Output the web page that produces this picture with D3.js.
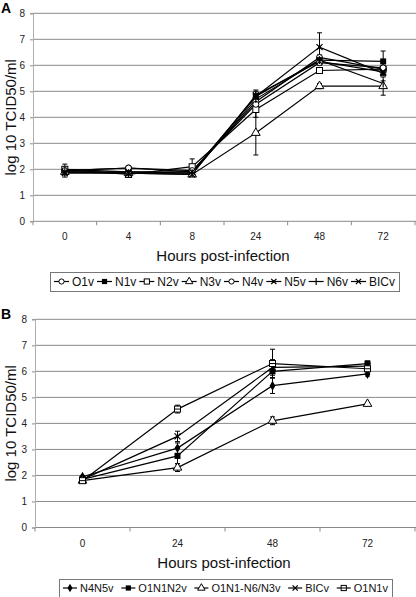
<!DOCTYPE html>
<html><head><meta charset="utf-8">
<script src="https://cdn.jsdelivr.net/npm/d3@7"></script>
<style>
body{margin:0;background:#fff;}
svg{display:block;font-family:"Liberation Sans",Arial,sans-serif;}
</style></head>
<body><svg id="c" width="416" height="597"></svg>
<script>
// ---------- Panel A data ----------
const hoursA = ["0","4","8","24","48","72"];
const seriesA = ["O1v","N1v","N2v","N3v","N4v","N5v","N6v","BICv"];
const markersA = ["circle","squareFilled","square","triangle","circle","xdot","plus","x"];
const O1v  = [1.95, 2.05, 1.90, 4.60, 6.30, 5.85];
const N1v  = [2.00, 1.90, 1.85, 4.80, 6.20, 6.15];
const N2v  = [2.00, 1.80, 2.10, 4.30, 5.80, 5.85];
const N3v  = [1.90, 1.85, 1.80, 3.40, 5.20, 5.20];
const N4v  = [1.95, 2.05, 1.95, 4.50, 6.10, 5.90];
const N5v  = [1.90, 1.90, 1.90, 4.80, 6.70, 5.70];
const N6v  = [1.90, 1.85, 1.85, 4.70, 6.20, 5.30];
const BICvA= [1.85, 1.85, 1.80, 4.85, 6.15, 5.75];
const errO1v  = [0.25, 0.05, 0.05, 0.10, 0.10, 0.10];
const errN1v  = [0.05, 0.05, 0.05, 0.10, 0.10, 0.40];
const errN2v  = [0.05, 0.05, 0.30, 0.30, 0.10, 0.10];
const errN3v  = [0.05, 0.05, 0.05, 0.85, 0.10, 0.35];
const errN4v  = [0.05, 0.05, 0.05, 0.10, 0.10, 0.10];
const errN5v  = [0.05, 0.05, 0.05, 0.20, 0.55, 0.10];
const errN6v  = [0.05, 0.05, 0.05, 0.10, 0.10, 0.10];
const errBICvA= [0.05, 0.05, 0.05, 0.20, 0.10, 0.10];
const valuesA = [O1v,N1v,N2v,N3v,N4v,N5v,N6v,BICvA];
const errorsA = [errO1v,errN1v,errN2v,errN3v,errN4v,errN5v,errN6v,errBICvA];

// ---------- Panel B data ----------
const hoursB = ["0","24","48","72"];
const seriesB = ["N4N5v","O1N1N2v","O1N1-N6/N3v","BICv","O1N1v"];
const markersB = ["diamondFilled","squareFilled","triangle","x","squareLine"];
const N4N5v   = [1.95, 3.05, 5.45, 5.90];
const O1N1N2v = [1.85, 2.75, 6.00, 6.30];
const O1N1N6N3v = [1.80, 2.30, 4.10, 4.75];
const BICvB   = [1.85, 3.50, 6.15, 6.20];
const O1N1v   = [1.80, 4.55, 6.30, 6.10];
const errN4N5v   = [0.05, 0.20, 0.30, 0.08];
const errO1N1N2v = [0.05, 0.30, 0.25, 0.10];
const errO1N1N6N3v = [0.05, 0.15, 0.15, 0.05];
const errBICvB   = [0.05, 0.20, 0.30, 0.10];
const errO1N1v   = [0.05, 0.15, 0.55, 0.10];
const valuesB = [N4N5v,O1N1N2v,O1N1N6N3v,BICvB,O1N1v];
const errorsB = [errN4N5v,errO1N1N2v,errO1N1N6N3v,errBICvB,errO1N1v];

const yTicks = [0,1,2,3,4,5,6,7,8];
const yLabel = "log 10 TCID50/ml";
const xLabel = "Hours post-infection";

const svg = d3.select("#c");

function drawMarker(g, type, x, y, s){
  s = s || 3;
  if(type==="circle"){
    g.append("circle").attr("cx",x).attr("cy",y).attr("r",s).attr("fill","#fff").attr("stroke","#000").attr("stroke-width",1);
  } else if(type==="squareFilled"){
    g.append("rect").attr("x",x-s).attr("y",y-s).attr("width",2*s).attr("height",2*s).attr("fill","#000");
  } else if(type==="square" || type==="squareLine"){
    g.append("rect").attr("x",x-s).attr("y",y-s).attr("width",2*s).attr("height",2*s).attr("fill","#fff").attr("stroke","#000").attr("stroke-width",1);
    if(type==="squareLine") g.append("line").attr("x1",x-s).attr("x2",x+s).attr("y1",y).attr("y2",y).attr("stroke","#000").attr("stroke-width",1);
  } else if(type==="triangle"){
    g.append("path").attr("d",d3.symbol(d3.symbolTriangle,s*s*3.6)()).attr("transform",`translate(${x},${y})`).attr("fill","#fff").attr("stroke","#000").attr("stroke-width",1);
  } else if(type==="diamondFilled"){
    g.append("path").attr("d",d3.symbol(d3.symbolDiamond,s*s*3.2)()).attr("transform",`translate(${x},${y})`).attr("fill","#000");
  } else if(type==="x" || type==="xdot"){
    g.append("path").attr("d",`M${x-s},${y-s}L${x+s},${y+s}M${x-s},${y+s}L${x+s},${y-s}`).attr("stroke","#000").attr("stroke-width",1.3);
    if(type==="xdot") g.append("circle").attr("cx",x).attr("cy",y).attr("r",1.3).attr("fill","#000");
  } else if(type==="plus"){
    g.append("path").attr("d",`M${x},${y-s-1}L${x},${y+s+1}`).attr("stroke","#000").attr("stroke-width",1.2);
  }
}

function drawPanel(opt){
  const {hours, series, markers, values, errors, xRange, y0, y8, letter, letterY, legendBox, legendFont, legendLine} = opt;
  const x = d3.scaleBand().domain(hours).range(xRange);
  const y = d3.scaleLinear().domain([0,8]).range([y0,y8]);
  const g = svg.append("g");
  g.selectAll("line.grid").data(yTicks).join("line")
    .attr("x1",xRange[0]).attr("x2",416).attr("y1",d=>y(d)).attr("y2",d=>y(d))
    .attr("stroke","#8a8a8a").attr("stroke-width",1);
  const ya = g.append("g").attr("transform",`translate(${xRange[0]},0)`)
    .call(d3.axisLeft(y).tickValues(yTicks).tickSize(3).tickFormat(d3.format("d")));
  ya.select(".domain").attr("stroke","#b0b0b0");
  ya.selectAll(".tick line").attr("stroke","#8a8a8a");
  ya.selectAll("text").attr("font-size",10).attr("fill","#222").attr("x",-8).attr("font-family","Liberation Sans, Arial");
  const xa = g.append("g").attr("transform",`translate(0,${y0})`)
    .call(d3.axisBottom(x).tickSize(0).tickPadding(12));
  xa.select(".domain").remove();
  xa.selectAll("text").attr("font-size",10).attr("fill","#222").attr("font-family","Liberation Sans, Arial");
  const bounds = hours.map(h=>x(h)).concat([xRange[1]]);
  g.selectAll("line.xt").data(bounds).join("line")
    .attr("x1",d=>d).attr("x2",d=>d).attr("y1",y0).attr("y2",y0+4).attr("stroke","#8a8a8a");
  g.append("text").attr("x",(xRange[0]+xRange[1])/2 - 1).attr("y",y0+40).attr("text-anchor","middle")
    .attr("font-size",15).attr("fill","#111").text(xLabel);
  g.append("text").attr("transform",`translate(16,${(y0+y8)/2}) rotate(-90)`).attr("text-anchor","middle")
    .attr("font-size",15).attr("fill","#111").text(yLabel);
  g.append("text").attr("x",1).attr("y",letterY).attr("font-size",14).attr("font-weight","bold").text(letter);
  const cx = h => x(h)+x.bandwidth()/2;
  const line = d3.line().x((d,i)=>cx(hours[i])).y(d=>y(d));
  series.forEach((s,k)=>{
    g.append("path").attr("d",line(values[k])).attr("fill","none").attr("stroke","#000").attr("stroke-width",1.2);
  });
  series.forEach((s,k)=>{
    values[k].forEach((v,i)=>{
      const e = errors[k][i], px = cx(hours[i]);
      g.append("path").attr("d",`M${px},${y(v-e)}L${px},${y(v+e)}M${px-2.5},${y(v-e)}L${px+2.5},${y(v-e)}M${px-2.5},${y(v+e)}L${px+2.5},${y(v+e)}`)
        .attr("stroke","#000").attr("stroke-width",1);
    });
  });
  series.forEach((s,k)=>{
    values[k].forEach((v,i)=>drawMarker(g, markers[k], cx(hours[i]), y(v)));
  });
  // legend
  const [lx0,ly0,lx1,ly1] = legendBox;
  const lg = svg.append("g");
  lg.append("rect").attr("x",lx0+0.5).attr("y",ly0+0.5).attr("width",lx1-lx0).attr("height",ly1-ly0)
    .attr("fill","#fff").attr("stroke","#777");
  const ly = (ly0+ly1)/2;
  const tmp = lg.append("text").attr("font-size",legendFont);
  const widths = series.map(s=>{tmp.text(s); return tmp.node().getComputedTextLength();});
  tmp.remove();
  const itemW = widths.map(w=>legendLine+3+w);
  const total = d3.sum(itemW);
  const gap = ((lx1-lx0) - 8 - total)/(series.length-1);
  let cxp = lx0+4;
  series.forEach((s,k)=>{
    lg.append("line").attr("x1",cxp).attr("x2",cxp+legendLine).attr("y1",ly).attr("y2",ly).attr("stroke","#000").attr("stroke-width",1.2);
    drawMarker(lg, markers[k], cxp+legendLine/2, ly, 2.6);
    lg.append("text").attr("x",cxp+legendLine+3).attr("y",ly+legendFont*0.36).attr("font-size",legendFont).attr("fill","#111").text(s);
    cxp += itemW[k]+gap;
  });
}

drawPanel({hours:hoursA, series:seriesA, markers:markersA, values:valuesA, errors:errorsA,
  xRange:[33,415], y0:221.3, y8:13.3, letter:"A", letterY:13, legendBox:[50,272,399,291], legendFont:12, legendLine:15});
drawPanel({hours:hoursB, series:seriesB, markers:markersB, values:valuesB, errors:errorsB,
  xRange:[35,415], y0:527.5, y8:319.3, letter:"B", letterY:319, legendBox:[59,579,392,597], legendFont:11, legendLine:14});
</script></body></html>
